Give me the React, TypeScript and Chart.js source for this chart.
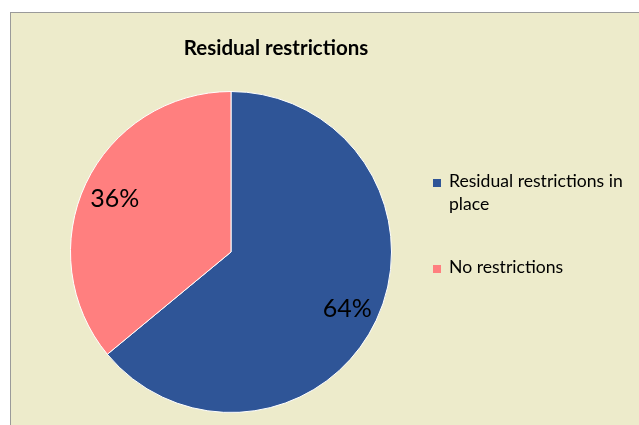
import React, { useEffect, useRef } from "react";
import { Chart, registerables } from "chart.js";

Chart.register(...registerables);

const TITLE = "Residual restrictions";
const CATEGORIES = ["Residual restrictions in place", "No restrictions"];
const LEGEND_LINES = [["Residual restrictions in", "place"], ["No restrictions"]];
const VALUES = [64, 36];
const LABELS = ["64%", "36%"];
const COLORS = ["#2F5597", "#FF7F7F"];

const FONT = "Lato, 'Open Sans', sans-serif";

export default function App() {
  const ref = useRef<HTMLCanvasElement>(null);

  useEffect(() => {
    const overlay = {
      id: "overlay",
      afterDatasetsDraw(chart: any) {
        const ctx = chart.ctx as CanvasRenderingContext2D;
        const meta = chart.getDatasetMeta(0);
        ctx.save();
        // percentages
        ctx.fillStyle = "#000";
        ctx.font = `25px ${FONT}`;
        ctx.textAlign = "center";
        ctx.textBaseline = "alphabetic";
        meta.data.forEach((arc: any, i: number) => {
          const mid = (arc.startAngle + arc.endAngle) / 2;
          const r = arc.outerRadius * 0.8;
          const x = arc.x + Math.cos(mid) * r;
          const y = arc.y + Math.sin(mid) * r;
          ctx.fillText(LABELS[i], x, y + 10);
        });
        // title
        ctx.font = `bold 20.5px ${FONT}`;
        ctx.fillText(TITLE, 276, 55);
        // legend
        ctx.textAlign = "left";
        ctx.font = `17.6px ${FONT}`;
        const starts = [187, 273];
        LEGEND_LINES.forEach((lines, i) => {
          ctx.fillStyle = COLORS[i];
          ctx.fillRect(433, starts[i] - 8, 8, 8);
          ctx.fillStyle = "#000";
          lines.forEach((t, j) => ctx.fillText(t, 449, starts[i] + j * 23));
        });
        ctx.restore();
      },
    };

    const chart = new Chart(ref.current!, {
      type: "pie",
      data: {
        labels: CATEGORIES,
        datasets: [
          {
            data: VALUES,
            backgroundColor: COLORS,
            borderColor: "#FFFFFF",
            borderWidth: 1,
          },
        ],
      },
      options: {
        animation: false,
        responsive: false,
        layout: { padding: { left: 70, right: 247, top: 91, bottom: 12 } },
        plugins: {
          legend: { display: false },
          title: { display: false },
          tooltip: { enabled: false },
        },
      },
      plugins: [overlay],
    });
    return () => chart.destroy();
  }, []);

  return (
    <div style={{ position: "fixed", left: 0, top: 0, width: 639, height: 425, background: "#FFFFFF", overflow: "hidden" }}>
      <div
        style={{
          position: "absolute",
          left: 10,
          top: 12,
          width: 640,
          height: 420,
          background: "#EDEBCB",
          border: "1px solid #9A9A9A",
        }}
      />
      <canvas ref={ref} width={639} height={425} style={{ position: "absolute", left: 0, top: 0 }} />
    </div>
  );
}
